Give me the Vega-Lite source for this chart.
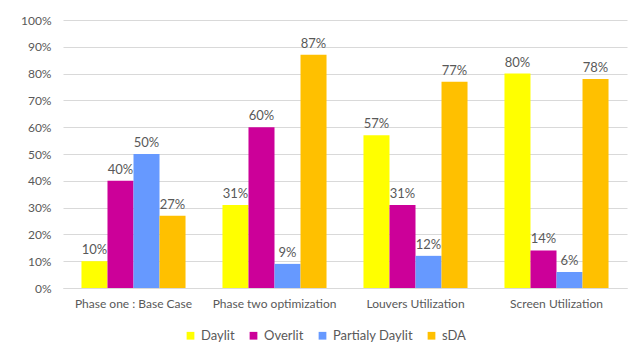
{
  "$schema": "https://vega.github.io/schema/vega-lite/v6.json",
  "width": 564,
  "height": 268,
  "autosize": {"type": "none"},
  "padding": {"left": 63, "top": 20, "right": 4, "bottom": 68},
  "background": "white",
  "config": {
    "view": {"stroke": null},
    "font": "Lato",
    "axis": {"labelFont": "Lato", "labelColor": "#595959", "labelFontSize": 12},
    "legend": {"labelFont": "Lato", "labelColor": "#595959", "labelFontSize": 13}
  },
  "data": {
    "values": [
      {"phase": "Phase one : Base Case", "series": "Daylit", "value": 0.10},
      {"phase": "Phase one : Base Case", "series": "Overlit", "value": 0.40},
      {"phase": "Phase one : Base Case", "series": "Partialy Daylit", "value": 0.50},
      {"phase": "Phase one : Base Case", "series": "sDA", "value": 0.27},
      {"phase": "Phase two optimization", "series": "Daylit", "value": 0.31},
      {"phase": "Phase two optimization", "series": "Overlit", "value": 0.60},
      {"phase": "Phase two optimization", "series": "Partialy Daylit", "value": 0.09},
      {"phase": "Phase two optimization", "series": "sDA", "value": 0.87},
      {"phase": "Louvers Utilization", "series": "Daylit", "value": 0.57},
      {"phase": "Louvers Utilization", "series": "Overlit", "value": 0.31},
      {"phase": "Louvers Utilization", "series": "Partialy Daylit", "value": 0.12},
      {"phase": "Louvers Utilization", "series": "sDA", "value": 0.77},
      {"phase": "Screen Utilization", "series": "Daylit", "value": 0.80},
      {"phase": "Screen Utilization", "series": "Overlit", "value": 0.14},
      {"phase": "Screen Utilization", "series": "Partialy Daylit", "value": 0.06},
      {"phase": "Screen Utilization", "series": "sDA", "value": 0.78}
    ]
  },
  "encoding": {
    "x": {
      "field": "phase", "type": "nominal", "sort": null,
      "scale": {"paddingInner": 0.262, "paddingOuter": 0.131},
      "axis": {"title": null, "labelAngle": 0, "ticks": false, "domainColor": "#D9D9D9", "labelPadding": 10}
    },
    "xOffset": {
      "field": "series", "type": "nominal",
      "sort": ["Daylit", "Overlit", "Partialy Daylit", "sDA"],
      "scale": {"paddingInner": 0, "paddingOuter": 0}
    },
    "y": {
      "field": "value", "type": "quantitative",
      "scale": {"domain": [0, 1]},
      "axis": {"title": null, "format": ".0%", "values": [0,0.1,0.2,0.3,0.4,0.5,0.6,0.7,0.8,0.9,1], "labelOverlap": false, "domain": false, "ticks": false, "gridColor": "#D9D9D9", "labelPadding": 12}
    }
  },
  "layer": [
    {
      "mark": {"type": "bar"},
      "encoding": {
        "color": {
          "field": "series", "type": "nominal",
          "sort": ["Daylit", "Overlit", "Partialy Daylit", "sDA"],
          "scale": {"domain": ["Daylit", "Overlit", "Partialy Daylit", "sDA"], "range": ["#FFFF00", "#CC0099", "#6699FF", "#FFC000"]},
          "legend": {"title": null, "orient": "none", "direction": "horizontal", "legendX": 121, "legendY": 309, "symbolType": "square", "symbolSize": 60, "symbolStrokeWidth": 0, "labelOffset": 4, "columnPadding": 12}
        }
      }
    },
    {
      "mark": {"type": "text", "baseline": "bottom", "dy": -4, "fontSize": 13, "color": "#595959", "font": "Lato"},
      "encoding": {
        "text": {"field": "value", "type": "quantitative", "format": ".0%"}
      }
    }
  ]
}
